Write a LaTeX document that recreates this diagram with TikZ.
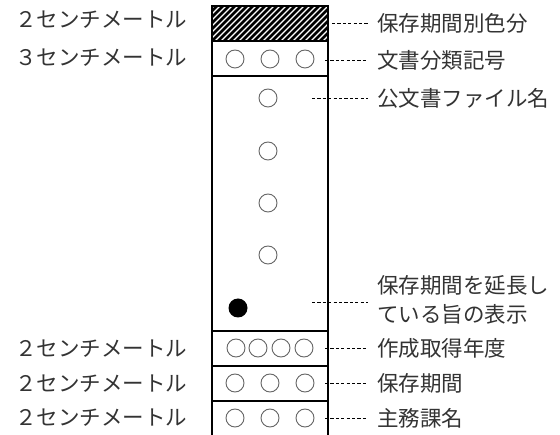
\documentclass[tikz,border=0pt]{standalone}
\usepackage{fontspec}
\setmainfont{Noto Sans CJK JP}
\newfontfamily\jfont{Noto Sans CJK JP}[Color=333333]
\begin{document}
\begin{tikzpicture}[x=1pt,y=-1pt,
  lbl/.style={inner sep=0pt,font=\fontsize{21.5}{23}\selectfont\jfont,text=black!85},
  dsh/.style={draw=black,line width=0.8pt,dash pattern=on 3.2pt off 2.2pt},
  circ/.style={circle,draw=black!60,line width=0.9pt,minimum size=18pt,inner sep=0pt},
  boxline/.style={line width=1.4pt,draw=black}]
\useasboundingbox (0,0) rectangle (560,435);
\fill[white] (0,0) rectangle (560,435);
% hatching
\begin{scope}
\clip (212,6) rectangle (328,41);
\foreach \i in {-60,-54,...,140}
  \draw[line width=2.6pt] (212+\i,41) -- (212+\i+35,6);
\end{scope}
% box
\draw[boxline] (212,435) -- (212,6) -- (328,6) -- (328,435);
\foreach \yy in {41,76,331,366,401}
  \draw[boxline] (212,\yy) -- (328,\yy);
% circles
\node[circ] (c1) at (235,59) {};
\node[circ] (c2) at (270,59) {};
\node[circ] (c3) at (305,59) {};
\node[circ] (m1) at (268,98) {};
\node[circ] (m2) at (268,151) {};
\node[circ] (m3) at (268,203) {};
\node[circ] (m4) at (268,255) {};
\node[circle,fill=black,minimum size=19pt,inner sep=0pt] (dot) at (238,308) {};
\node[circ] (y1) at (236,348) {};
\node[circ] (y2) at (258,348) {};
\node[circ] (y3) at (281,348) {};
\node[circ] (y4) at (304,348) {};
\node[circ] (p1) at (235,383) {};
\node[circ] (p2) at (270,383) {};
\node[circ] (p3) at (305,383) {};
\node[circ] (k1) at (235,418) {};
\node[circ] (k2) at (270,418) {};
\node[circ] (k3) at (305,418) {};
% left labels
\node[lbl,anchor=west] (L1) at (15,20) {２センチメートル};
\node[lbl,anchor=west] (L2) at (15,58) {３センチメートル};
\node[lbl,anchor=west] (L3) at (15,349) {２センチメートル};
\node[lbl,anchor=west] (L4) at (15,384) {２センチメートル};
\node[lbl,anchor=west] (L5) at (15,418) {２センチメートル};
% right labels
\node[lbl,anchor=west] (R1) at (377,23) {保存期間別色分};
\node[lbl,anchor=west] (R2) at (377,60) {文書分類記号};
\node[lbl,anchor=west] (R3) at (377,98) {公文書ファイル名};
\node[lbl,anchor=west] (R4a) at (377,285) {保存期間を延長し};
\node[lbl,anchor=west] (R4b) at (377,314) {ている旨の表示};
\node[lbl,anchor=west] (R5) at (377,348) {作成取得年度};
\node[lbl,anchor=west] (R6) at (377,383) {保存期間};
\node[lbl,anchor=west] (R7) at (377,418) {主務課名};
% connectors
\coordinate (s1) at (332,23);
\coordinate (s2) at (325,60);
\coordinate (s3) at (312,98);
\coordinate (s4) at (312,302);
\coordinate (s5) at (325,348);
\coordinate (s6) at (325,383);
\coordinate (s7) at (325,418);
\draw[dsh] (s1) -- (R1.west -| 368,0);
\draw[dsh] (s2) -- (R2.west -| 368,0);
\draw[dsh] (s3) -- (R3.west -| 368,0);
\draw[dsh] (s4) -- (368,302);
\draw[dsh] (s5) -- (R5.west -| 368,0);
\draw[dsh] (s6) -- (R6.west -| 368,0);
\draw[dsh] (s7) -- (R7.west -| 368,0);
\end{tikzpicture}
\end{document}
